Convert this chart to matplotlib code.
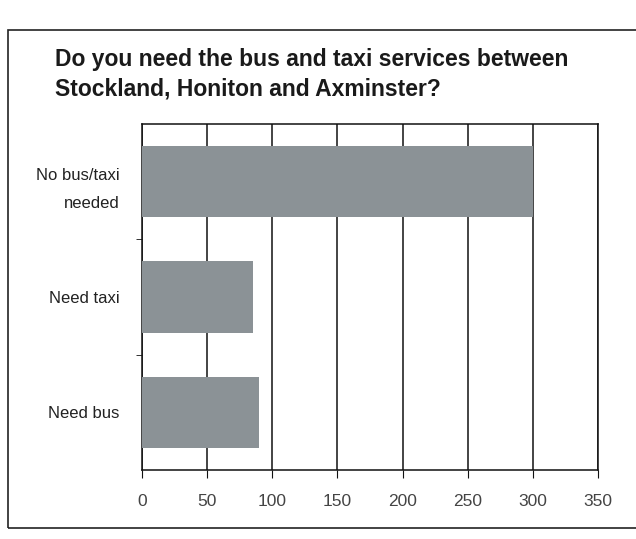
import matplotlib
matplotlib.use("Agg")
import matplotlib.pyplot as plt
from matplotlib.patches import Rectangle

categories = ["No bus/taxi\nneeded", "Need taxi", "Need bus"]
values = [300, 85, 90]
xticks = [0, 50, 100, 150, 200, 250, 300, 350]
title = "Do you need the bus and taxi services between\nStockland, Honiton and Axminster?"

label_font = ["Liberation Sans", "DejaVu Sans"]

fig = plt.figure(figsize=(6.36, 5.39), dpi=100)
fig.patch.set_facecolor("white")

# outer frame
fig.patches.append(Rectangle((8/636, 1 - 528/539), 640/636, (528-30)/539,
                             transform=fig.transFigure, fill=False,
                             edgecolor="#222222", lw=1.2))

fig.text(55/636, 1 - 48/539, title, ha="left", va="top", fontsize=16.5,
         fontweight="bold", family=["Liberation Sans", "DejaVu Sans"],
         color="#1a1a1a", linespacing=1.35)

ax = fig.add_axes([142/636, 1 - 470/539, (598-142)/636, (470-124)/539])
pos = list(range(len(categories)))
ax.set_axisbelow(True)
ax.xaxis.grid(True, color="#111111", lw=1.1)
ax.barh(pos, values, height=0.62, color="#8b9296", edgecolor="none", zorder=3)
ax.set_xlim(0, 350)
ax.set_ylim(len(categories) - 0.5, -0.5)
ax.set_xticks(xticks)
ax.set_xticklabels([str(t) for t in xticks], family=label_font, fontsize=12.5, color="#444444")
ax.set_yticks(pos)
ax.set_yticklabels(categories, family=label_font, fontsize=12, color="#222222",
                   linespacing=2.1)
ax.set_yticks([0.5, 1.5], minor=True)
ax.tick_params(axis="y", which="major", length=0, pad=16)
ax.tick_params(axis="y", which="minor", length=4, direction="out", color="#111111")
ax.tick_params(axis="x", length=6, direction="out", pad=11, color="#111111")
for s in ax.spines.values():
    s.set_color("#111111")
    s.set_linewidth(1.1)

fig.savefig("out.png", dpi=100, facecolor="white")
